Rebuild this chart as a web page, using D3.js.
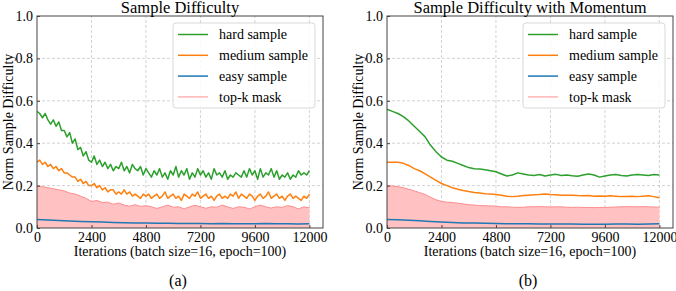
<!DOCTYPE html>
<html>
<head>
<meta charset="utf-8">
<script src="https://cdn.jsdelivr.net/npm/d3@7"></script>
<style>
  body { margin: 0; background: #fff; }
  svg { display: block; }
  svg text { font-family: "Liberation Serif", "Times New Roman", Times, "DejaVu Serif", serif; }
</style>
</head>
<body>
<svg id="chart" width="676" height="291"></svg>
<script>
// x ticks and y ticks
let xTicks = [0, 2400, 4800, 7200, 9600, 12000];
let yTicks = [0, 0.2, 0.4, 0.6, 0.8, 1.0];

// (a) Sample Difficulty, hard / medium every 120 it, top-k every 240 it, easy every 480 it
let hardA = [
  0.55,0.54,0.52,0.54,0.51,0.49,0.51,0.48,0.50,0.46,0.46,0.43,0.45,0.40,0.42,0.37,0.38,0.34,0.36,0.32,0.31,
  0.34,0.30,0.32,0.29,0.31,0.28,0.30,0.27,0.29,0.28,0.31,0.27,0.29,0.26,0.30,0.28,0.27,0.29,0.25,0.28,
  0.26,0.24,0.27,0.25,0.28,0.24,0.26,0.23,0.27,0.25,
  0.29,0.24,0.27,0.25,0.28,0.23,0.26,0.24,0.28,0.25,
  0.27,0.24,0.26,0.23,0.28,0.25,0.26,0.24,0.27,0.23,
  0.25,0.24,0.26,0.25,0.24,0.27,0.24,0.28,0.25,0.27,
  0.23,0.28,0.24,0.26,0.25,0.28,0.24,0.27,0.23,0.25,
  0.24,0.26,0.23,0.25,0.24,0.27,0.25,0.26,0.25,0.27
];
let mediumA = [
  0.31,0.32,0.30,0.31,0.29,0.30,0.28,0.29,0.27,0.28,0.26,0.26,0.25,0.24,0.24,0.22,0.23,0.21,0.22,0.20,0.20,
  0.21,0.19,0.20,0.18,0.19,0.17,0.18,0.18,0.16,0.17,0.16,0.18,0.16,0.17,0.15,0.16,0.15,0.14,0.16,0.15,
  0.16,0.14,0.15,0.16,0.14,0.15,0.17,0.14,0.15,0.16,
  0.14,0.15,0.13,0.16,0.15,0.14,0.16,0.15,0.17,0.14,
  0.15,0.16,0.14,0.15,0.13,0.15,0.16,0.14,0.15,0.14,
  0.16,0.15,0.17,0.14,0.16,0.15,0.14,0.16,0.15,0.13,
  0.15,0.16,0.14,0.15,0.17,0.14,0.15,0.16,0.14,0.15,
  0.13,0.15,0.16,0.14,0.15,0.14,0.13,0.15,0.14,0.16
];
let topkA = [
  0.20,0.195,0.19,0.185,0.18,0.175,0.165,0.16,0.15,0.14,0.125,0.13,0.12,0.122,0.112,0.118,0.108,0.103,0.11,0.102,0.105,
  0.10,0.092,0.10,0.108,0.098,0.10,0.09,0.10,0.107,0.10,0.093,0.10,0.098,0.108,0.10,
  0.092,0.10,0.098,0.09,0.10,0.108,0.10,0.094,0.10,0.097,0.106,0.10,0.09,0.10,0.095
];
let easyA = [
  0.040,0.038,0.035,0.033,0.031,0.030,0.028,0.026,0.025,0.024,0.023,0.022,0.022,
  0.021,0.021,0.021,0.020,0.021,0.020,0.020,0.020,0.021,0.020,0.020,0.019,0.020
];

// (b) Sample Difficulty with Momentum, every 240 it (easy every 480 it)
let hardB = [
  0.56,0.55,0.54,0.525,0.505,0.48,0.455,0.43,0.39,0.36,0.335,0.32,0.315,0.305,0.295,0.285,0.28,0.278,0.275,0.27,
  0.265,0.255,0.245,0.25,0.26,0.255,0.25,
  0.248,0.252,0.245,0.25,0.253,0.248,0.25,0.246,0.244,0.25,0.255,0.25,0.24,0.245,0.25,0.252,0.248,0.245,0.25,0.252,0.25,0.248,0.252,0.25
];
let mediumB = [
  0.31,0.31,0.31,0.305,0.295,0.28,0.27,0.255,0.24,0.225,0.21,0.20,0.19,0.183,0.177,0.172,0.168,0.165,0.162,0.16,
  0.158,0.155,0.15,0.148,0.15,0.153,0.155,
  0.157,0.158,0.16,0.158,0.157,0.155,0.154,0.155,0.153,0.152,0.153,0.15,0.151,0.15,0.152,0.15,0.148,0.149,0.15,0.148,0.15,0.152,0.148,0.143
];
let topkB = [
  0.20,0.198,0.195,0.19,0.183,0.175,0.167,0.158,0.145,0.133,0.125,0.122,0.12,0.117,0.113,0.11,0.108,0.106,0.105,0.104,
  0.103,0.10,0.10,0.098,0.097,0.098,0.10,
  0.10,0.101,0.10,0.099,0.10,0.10,0.098,0.097,0.098,0.097,0.097,0.096,0.097,0.097,0.098,0.099,0.10,0.101,0.10,0.10,0.101,0.10,0.099,0.098
];
let easyB = [
  0.040,0.039,0.037,0.034,0.031,0.028,0.026,0.024,0.023,0.022,0.021,0.020,0.020,
  0.020,0.019,0.019,0.019,0.019,0.018,0.018,0.018,0.019,0.019,0.018,0.019,0.020
];

let legendKeys = ["hard sample", "medium sample", "easy sample", "top-k mask"];
let legendColors = ["#2ca02c", "#ff7f0e", "#1f77b4", "#ffb3b3"];

let svg = d3.select("#chart");

// turn a series into points spread over 0..12000 iterations
const toPoints = (vals) => vals.map((v, i) => ({ it: i * 12000 / (vals.length - 1), v: v }));

const drawPanel = (opt) => {
    let x = d3.scaleLinear().domain([0, 12600]).range([opt.left, opt.left + 286]);
    let y = d3.scaleLinear().domain([0, 1]).range([228, 16]);
    let g = svg.append("g");

    // grid
    g.append("g").selectAll("line")
        .data(xTicks.slice(1))
        .enter().append("line")
        .attr("x1", d => x(d)).attr("x2", d => x(d))
        .attr("y1", y(0)).attr("y2", y(1))
        .attr("stroke", "#c8c8c8").attr("stroke-width", 0.8)
        .attr("stroke-dasharray", "3,2");
    g.append("g").selectAll("line")
        .data(yTicks.slice(1, -1))
        .enter().append("line")
        .attr("x1", x(0)).attr("x2", x(12600))
        .attr("y1", d => y(d)).attr("y2", d => y(d))
        .attr("stroke", "#c8c8c8").attr("stroke-width", 0.8)
        .attr("stroke-dasharray", "3,2");

    let line = d3.line().x(d => x(d.it)).y(d => y(d.v));
    let area = d3.area().x(d => x(d.it)).y0(y(0)).y1(d => y(d.v));

    // top-k mask
    g.append("path").datum(toPoints(opt.topk))
        .attr("d", area).attr("fill", "#ffc1c1");
    g.append("path").datum(toPoints(opt.topk))
        .attr("d", line).attr("fill", "none")
        .attr("stroke", "#ff8c8c").attr("stroke-width", 1);

    [[opt.easy, "#1f77b4"], [opt.medium, "#ff7f0e"], [opt.hard, "#2ca02c"]].forEach(s => {
        g.append("path").datum(toPoints(s[0]))
            .attr("d", line).attr("fill", "none")
            .attr("stroke", s[1]).attr("stroke-width", 1.5)
            .attr("stroke-linejoin", "round");
    });

    // axes
    let ax = g.append("g")
        .attr("transform", "translate(0," + y(0) + ")")
        .call(d3.axisBottom(x).tickValues(xTicks).tickFormat(d3.format("d"))
            .tickSizeInner(-3).tickSizeOuter(0).tickPadding(4.5));
    let ay = g.append("g")
        .attr("transform", "translate(" + x(0) + ",0)")
        .call(d3.axisLeft(y).tickValues(yTicks).tickFormat(d3.format(".1f"))
            .tickSizeInner(-3).tickSizeOuter(0).tickPadding(4));
    [ax, ay].forEach(a => {
        a.attr("font-family", null);
        a.select(".domain").remove();
        a.selectAll("text").attr("font-size", 14).attr("fill", "#000");
        a.selectAll("line").attr("stroke", "#444");
    });

    // frame
    g.append("rect")
        .attr("x", x(0)).attr("y", y(1))
        .attr("width", x(12600) - x(0)).attr("height", y(0) - y(1))
        .attr("fill", "none").attr("stroke", "#444").attr("stroke-width", 1);

    // legend
    let lg = g.append("g").attr("transform", "translate(" + (x(12600) - 150) + ",23)");
    lg.append("rect")
        .attr("width", 142).attr("height", 85).attr("rx", 3)
        .attr("fill", "#fff").attr("fill-opacity", 0.85)
        .attr("stroke", "#d9d9d9");
    let item = lg.selectAll("g.item")
        .data(legendKeys)
        .enter().append("g")
        .attr("class", "item")
        .attr("transform", (d, i) => "translate(0," + (11.5 + i * 20.8) + ")");
    item.append("line")
        .attr("x1", 5).attr("x2", 35)
        .attr("stroke", (d, i) => legendColors[i]).attr("stroke-width", 1.5);
    item.append("text")
        .attr("x", 46).attr("dy", "0.33em")
        .attr("font-size", 14).attr("fill", "#000")
        .text(d => d);

    // titles and labels
    let cx = (x(0) + x(12600)) / 2;
    g.append("text").attr("x", cx).attr("y", 12.5)
        .attr("text-anchor", "middle").attr("font-size", 16.5).attr("fill", "#000")
        .text(opt.title);
    g.append("text").attr("x", cx).attr("y", 256)
        .attr("text-anchor", "middle").attr("font-size", 14).attr("fill", "#000")
        .text("Iterations (batch size=16, epoch=100)");
    g.append("text")
        .attr("transform", "translate(" + (opt.left - 24) + "," + y(0.5) + ") rotate(-90)")
        .attr("text-anchor", "middle").attr("font-size", 14).attr("fill", "#000")
        .text("Norm Sample Difficulty");
    g.append("text").attr("x", cx - 2).attr("y", 286)
        .attr("text-anchor", "middle").attr("font-size", 16).attr("fill", "#000")
        .text(opt.tag);
};

drawPanel({ left: 37, title: "Sample Difficulty", tag: "(a)", hard: hardA, medium: mediumA, topk: topkA, easy: easyA });
drawPanel({ left: 387, title: "Sample Difficulty with Momentum", tag: "(b)", hard: hardB, medium: mediumB, topk: topkB, easy: easyB });
</script>
</body>
</html>
